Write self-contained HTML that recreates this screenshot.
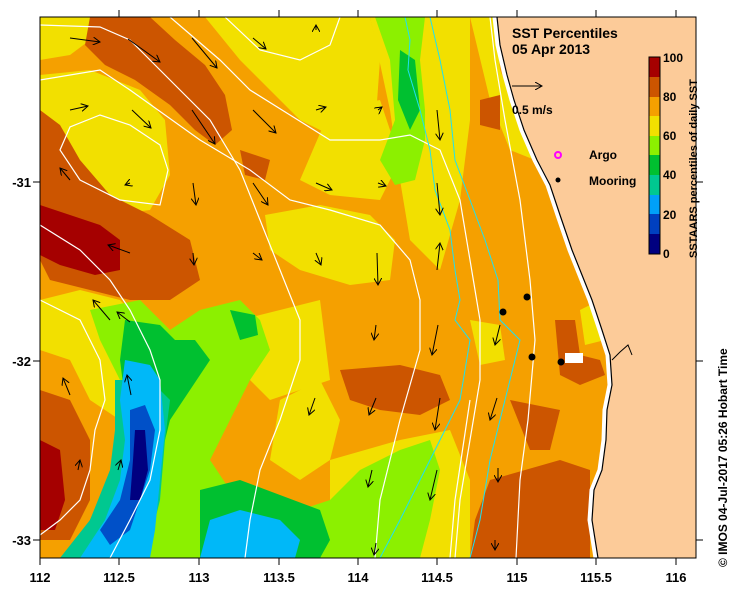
<!DOCTYPE html>
<html><head><meta charset="utf-8"><style>
html,body{margin:0;padding:0;background:#fff;width:739px;height:592px;overflow:hidden}
svg{display:block;font-family:"Liberation Sans",sans-serif}
</style></head><body>
<svg width="739" height="592" viewBox="0 0 739 592" xmlns="http://www.w3.org/2000/svg">
<defs><clipPath id="c"><rect x="40" y="17" width="656" height="541"/></clipPath>
<marker id="ah" markerWidth="8" markerHeight="8" refX="7" refY="4" orient="auto" markerUnits="userSpaceOnUse"><path d="M0,0 L7,4 L0,8" fill="none" stroke="#000" stroke-width="1"/></marker></defs>
<g clip-path="url(#c)">
<rect x="40" y="17" width="656" height="541" fill="#f5a000"/>
<path d="M40,17 L95,17 L90,40 L70,55 L40,60Z" fill="#f2e000"/>
<path d="M40,75 L90,70 L140,90 L165,120 L170,175 L150,210 L110,215 L80,200 L60,180 L40,160Z" fill="#f2e000"/>
<path d="M205,17 L370,17 L380,60 L375,130 L340,140 L300,120 L270,90 L240,60Z" fill="#f2e000"/>
<path d="M330,110 L380,100 L400,160 L380,200 L330,195 L300,180Z" fill="#f2e000"/>
<path d="M265,215 L320,205 L370,215 L395,240 L390,280 L350,285 L300,270 L270,250Z" fill="#f2e000"/>
<path d="M370,17 L470,17 L470,120 L460,200 L440,270 L410,240 L400,180 L390,110Z" fill="#f2e000"/>
<path d="M470,17 L495,17 L500,70 L520,120 L535,160 L510,150 L490,100Z" fill="#f2e000"/>
<path d="M40,300 L80,290 L120,300 L150,330 L150,380 L120,420 L90,400 L70,360 L40,350Z" fill="#f2e000"/>
<path d="M240,320 L320,300 L330,380 L270,400 L240,370Z" fill="#f2e000"/>
<path d="M280,400 L320,380 L340,420 L330,460 L300,480 L270,460Z" fill="#f2e000"/>
<path d="M330,460 L400,440 L450,430 L470,480 L470,558 L330,558Z" fill="#f2e000"/>
<path d="M470,320 L500,325 L505,360 L480,365Z" fill="#f2e000"/>
<path d="M580,310 L600,300 L605,340 L585,345Z" fill="#f2e000"/>
<path d="M90,17 L150,17 L175,40 L205,65 L225,95 L232,130 L215,145 L195,130 L170,105 L135,80 L105,65 L85,45Z" fill="#cc5500"/>
<path d="M40,110 L60,125 L80,160 L110,195 L150,215 L190,240 L200,280 L170,300 L130,300 L90,290 L50,280 L40,260Z" fill="#cc5500"/>
<path d="M240,150 L270,160 L265,180 L245,175Z" fill="#cc5500"/>
<path d="M340,370 L400,365 L440,375 L450,400 L420,415 L380,410 L350,400Z" fill="#cc5500"/>
<path d="M555,320 L575,320 L580,355 L600,360 L605,375 L580,385 L560,375Z" fill="#cc5500"/>
<path d="M510,400 L560,410 L550,450 L530,450Z" fill="#cc5500"/>
<path d="M490,480 L560,460 L590,470 L590,558 L470,558 L475,520Z" fill="#cc5500"/>
<path d="M40,390 L70,400 L90,440 L90,500 L70,540 L40,540Z" fill="#cc5500"/>
<path d="M480,100 L500,95 L500,130 L480,125Z" fill="#cc5500"/>
<path d="M40,205 L70,215 L100,225 L120,240 L120,270 L95,275 L60,265 L40,255Z" fill="#a50000"/>
<path d="M40,440 L60,450 L65,500 L55,530 L40,530Z" fill="#a50000"/>
<path d="M375,17 L425,17 L420,60 L425,110 L425,140 L415,180 L395,185 L380,160 L395,120 L390,60Z" fill="#8cf000"/>
<path d="M90,310 L140,300 L170,330 L200,310 L240,300 L260,320 L270,350 L250,380 L230,420 L210,460 L230,490 L270,500 L300,510 L330,500 L360,470 L400,450 L430,440 L440,470 L430,520 L420,558 L80,558 L95,520 L130,470 L160,420 L120,380 L100,340Z" fill="#8cf000"/>
<path d="M400,50 L415,60 L420,110 L410,130 L398,100Z" fill="#00c030"/>
<path d="M125,320 L160,325 L175,340 L195,340 L210,360 L190,390 L170,420 L160,460 L150,500 L140,540 L110,558 L70,558 L90,520 L110,480 L120,440 L125,400 L120,360Z" fill="#00c030"/>
<path d="M230,310 L255,315 L258,335 L240,340Z" fill="#00c030"/>
<path d="M200,490 L240,480 L280,495 L320,510 L330,540 L320,558 L200,558Z" fill="#00c030"/>
<path d="M115,380 L150,380 L170,400 L165,440 L160,500 L150,540 L120,558 L60,558 L90,520 L110,470 L115,430Z" fill="#00c890"/>
<path d="M125,360 L150,365 L160,380 L165,430 L160,480 L155,530 L150,558 L80,558 L105,520 L120,480 L125,440 L120,400Z" fill="#00b8f8"/>
<path d="M210,520 L240,510 L280,520 L300,540 L295,558 L200,558Z" fill="#00b8f8"/>
<path d="M130,410 L145,405 L155,430 L150,470 L140,500 L130,530 L110,545 L100,530 L120,500 L130,460Z" fill="#0050c8"/>
<path d="M135,430 L145,430 L148,470 L140,500 L130,500 L133,460Z" fill="#000080"/>
<path d="M495,17 L498,45 L505,75 L512,100 L522,130 L535,160 L548,185 L558,215 L570,250 L580,275 L590,300 L600,330 L608,355 L610,385 L605,410 L604,440 L600,470 L592,490 L590,520 L596,558 L696,558 L696,17Z" fill="#fccb99"/>
<path d="M495,17 L498,45 L505,75 L512,100 L522,130 L535,160 L548,185 L558,215 L570,250 L580,275 L590,300 L600,330 L608,355 L610,385 L605,410 L604,440 L600,470 L592,490 L590,520 L596,558" fill="none" stroke="#fff" stroke-width="5"/>
<path d="M497,17 L500,45 L507,75 L514,100 L524,130 L537,160 L550,185 L560,215 L572,250 L582,275 L592,300 L602,330 L610,355 L612,385 L607,410 L606,440 L602,470 L594,490 L592,520 L598,558" fill="none" stroke="#000" stroke-width="1.2"/>
<path d="M612,360 L620,352 L628,345 L632,355" fill="none" stroke="#000" stroke-width="1"/>
<rect x="565" y="353" width="18" height="10" fill="#fff"/>
<g fill="none" stroke="#fff" stroke-width="1.2">
<path d="M40,25 L100,27 L130,40 L175,85 L210,120 L240,170 L260,220 L280,270 L300,320 L300,360 L280,420 L260,470 L250,520 L245,558"/>
<path d="M40,80 L100,70 L130,90 L200,140 L250,170 L290,200 L330,210 L380,225 L410,260 L420,300 L420,350 L400,420 L380,500 L375,558"/>
<path d="M170,17 L220,60 L250,90 L290,115 L330,140 L380,140 L410,135 L440,150 L460,200 L470,260 L480,320 L480,380 L470,440 L460,500 L455,558"/>
<path d="M225,17 L260,50 L300,60 L330,45 L340,17"/>
<path d="M70,127 L60,150 L80,180 L120,200 L160,205 L168,170 L160,145 L130,125 L100,115Z"/>
<path d="M40,300 L80,320 L100,360 L105,400 L95,430 L90,470 L80,500 L60,520 L40,535"/>
<path d="M40,225 L80,250 L110,280 L130,310 L150,350 L160,380 L160,430 L150,480 L130,520 L110,558"/>
<path d="M490,17 L495,60 L505,120 L520,200 L530,280 L535,340 L528,420 L520,480 L516,558"/>
<path d="M450,558 L455,500 L470,400"/>
</g>
<g fill="none" stroke="#20e0f0" stroke-width="1">
<path d="M405,17 L410,40 L408,70 L420,110 L430,150 L435,190 L450,230 L455,270 L460,300 L455,320 L470,340 L460,400 L440,440 L420,480 L400,520 L380,558"/>
<path d="M430,17 L440,60 L450,110 L455,160 L470,200 L485,240 L498,280 L500,320 L520,340 L510,380 L500,420 L490,460 L480,520 L470,558"/>
</g>
<g stroke="#000" stroke-width="1" marker-end="url(#ah)">
<line x1="70" y1="38" x2="100" y2="42"/><line x1="128" y1="39" x2="160" y2="62"/><line x1="192" y1="38" x2="217" y2="68"/>
<line x1="253" y1="38" x2="266" y2="49"/><line x1="316" y1="30" x2="316" y2="25"/>
<line x1="70" y1="110" x2="88" y2="106"/><line x1="132" y1="110" x2="151" y2="128"/><line x1="192" y1="110" x2="215" y2="144"/><line x1="253" y1="110" x2="276" y2="133"/>
<line x1="316" y1="110" x2="326" y2="107"/><line x1="378" y1="110" x2="382" y2="107"/><line x1="437" y1="110" x2="440" y2="140"/>
<line x1="70" y1="180" x2="60" y2="168"/><line x1="130" y1="183" x2="125" y2="185"/><line x1="193" y1="183" x2="196" y2="205"/><line x1="253" y1="183" x2="268" y2="205"/>
<line x1="316" y1="183" x2="332" y2="190"/><line x1="378" y1="183" x2="386" y2="186"/><line x1="437" y1="183" x2="440" y2="215"/>
<line x1="130" y1="253" x2="108" y2="245"/><line x1="193" y1="253" x2="194" y2="265"/><line x1="253" y1="253" x2="262" y2="260"/><line x1="316" y1="253" x2="321" y2="265"/>
<line x1="377" y1="253" x2="378" y2="285"/><line x1="437" y1="270" x2="440" y2="243"/>
<line x1="110" y1="320" x2="93" y2="300"/><line x1="130" y1="322" x2="117" y2="312"/><line x1="70" y1="395" x2="63" y2="378"/><line x1="131" y1="395" x2="127" y2="375"/>
<line x1="376" y1="325" x2="374" y2="340"/><line x1="438" y1="325" x2="432" y2="355"/><line x1="500" y1="325" x2="495" y2="345"/>
<line x1="315" y1="398" x2="309" y2="415"/><line x1="376" y1="398" x2="369" y2="415"/><line x1="440" y1="398" x2="435" y2="430"/><line x1="497" y1="398" x2="490" y2="420"/>
<line x1="78" y1="470" x2="80" y2="460"/><line x1="118" y1="470" x2="121" y2="460"/><line x1="372" y1="470" x2="368" y2="487"/><line x1="437" y1="470" x2="430" y2="500"/>
<line x1="498" y1="468" x2="498" y2="482"/><line x1="495" y1="540" x2="495" y2="550"/><line x1="376" y1="543" x2="374" y2="555"/>
</g>
<g fill="#000"><circle cx="503" cy="312" r="3.5"/><circle cx="527" cy="297" r="3.5"/><circle cx="532" cy="357" r="3.5"/><circle cx="561" cy="362" r="3.5"/></g>
</g>
<rect x="40" y="17" width="656" height="541" fill="none" stroke="#000" stroke-width="1"/>
<g stroke="#000" stroke-width="1">
<line x1="40" y1="558" x2="40" y2="565"/><line x1="119" y1="558" x2="119" y2="565"/><line x1="199" y1="558" x2="199" y2="565"/><line x1="279" y1="558" x2="279" y2="565"/><line x1="358" y1="558" x2="358" y2="565"/><line x1="437" y1="558" x2="437" y2="565"/><line x1="517" y1="558" x2="517" y2="565"/><line x1="596" y1="558" x2="596" y2="565"/><line x1="676" y1="558" x2="676" y2="565"/>
<line x1="119" y1="17" x2="119" y2="10"/><line x1="199" y1="17" x2="199" y2="10"/><line x1="279" y1="17" x2="279" y2="10"/><line x1="358" y1="17" x2="358" y2="10"/><line x1="437" y1="17" x2="437" y2="10"/><line x1="517" y1="17" x2="517" y2="10"/><line x1="596" y1="17" x2="596" y2="10"/><line x1="676" y1="17" x2="676" y2="10"/>
<line x1="33" y1="182" x2="40" y2="182"/><line x1="33" y1="361" x2="40" y2="361"/><line x1="33" y1="540" x2="40" y2="540"/>
<line x1="696" y1="182" x2="703" y2="182"/><line x1="696" y1="361" x2="703" y2="361"/><line x1="696" y1="540" x2="703" y2="540"/>
</g>
<g font-size="13" font-weight="bold" text-anchor="middle" fill="#000">
<text x="40" y="582">112</text><text x="119" y="582">112.5</text><text x="199" y="582">113</text><text x="279" y="582">113.5</text><text x="358" y="582">114</text><text x="437" y="582">114.5</text><text x="517" y="582">115</text><text x="596" y="582">115.5</text><text x="676" y="582">116</text>
</g>
<g font-size="13" font-weight="bold" text-anchor="end" fill="#000">
<text x="31" y="187">-31</text><text x="31" y="366">-32</text><text x="31" y="545">-33</text>
</g>
<text x="512" y="38" font-size="14" font-weight="bold" fill="#000">SST Percentiles</text>
<text x="512" y="54" font-size="14" font-weight="bold" fill="#000">05 Apr 2013</text>
<line x1="512" y1="86" x2="542" y2="86" stroke="#000" marker-end="url(#ah)"/>
<text x="512" y="114" font-size="12" font-weight="bold" fill="#000">0.5 m/s</text>
<circle cx="558" cy="155" r="3" fill="none" stroke="#ff00ff" stroke-width="2"/>
<text x="589" y="159" font-size="12" font-weight="bold" fill="#000">Argo</text>
<circle cx="558" cy="180" r="2.5" fill="#000"/>
<text x="589" y="185" font-size="12" font-weight="bold" fill="#000">Mooring</text>
<g>
<rect x="649" y="57" width="11" height="20" fill="#a50000"/>
<rect x="649" y="77" width="11" height="20" fill="#cc5500"/>
<rect x="649" y="97" width="11" height="19" fill="#f5a000"/>
<rect x="649" y="116" width="11" height="20" fill="#f2e000"/>
<rect x="649" y="136" width="11" height="19" fill="#8cf000"/>
<rect x="649" y="155" width="11" height="20" fill="#00c030"/>
<rect x="649" y="175" width="11" height="20" fill="#00c890"/>
<rect x="649" y="195" width="11" height="19" fill="#00a0f8"/>
<rect x="649" y="214" width="11" height="20" fill="#0040c0"/>
<rect x="649" y="234" width="11" height="20" fill="#000080"/>
<rect x="649" y="57" width="11" height="197" fill="none" stroke="#000"/>
</g>
<g font-size="12" font-weight="bold" fill="#000">
<text x="663" y="62">100</text><text x="663" y="101">80</text><text x="663" y="140">60</text><text x="663" y="179">40</text><text x="663" y="219">20</text><text x="663" y="258">0</text>
</g>
<text transform="translate(697,258) rotate(-90)" font-size="11" font-weight="bold" fill="#000">SSTAARS percentiles of daily SST</text>
<text transform="translate(727,567) rotate(-90)" font-size="12" font-weight="bold" fill="#000">©  IMOS 04-Jul-2017 05:26 Hobart Time</text>
</svg>
</body></html>
